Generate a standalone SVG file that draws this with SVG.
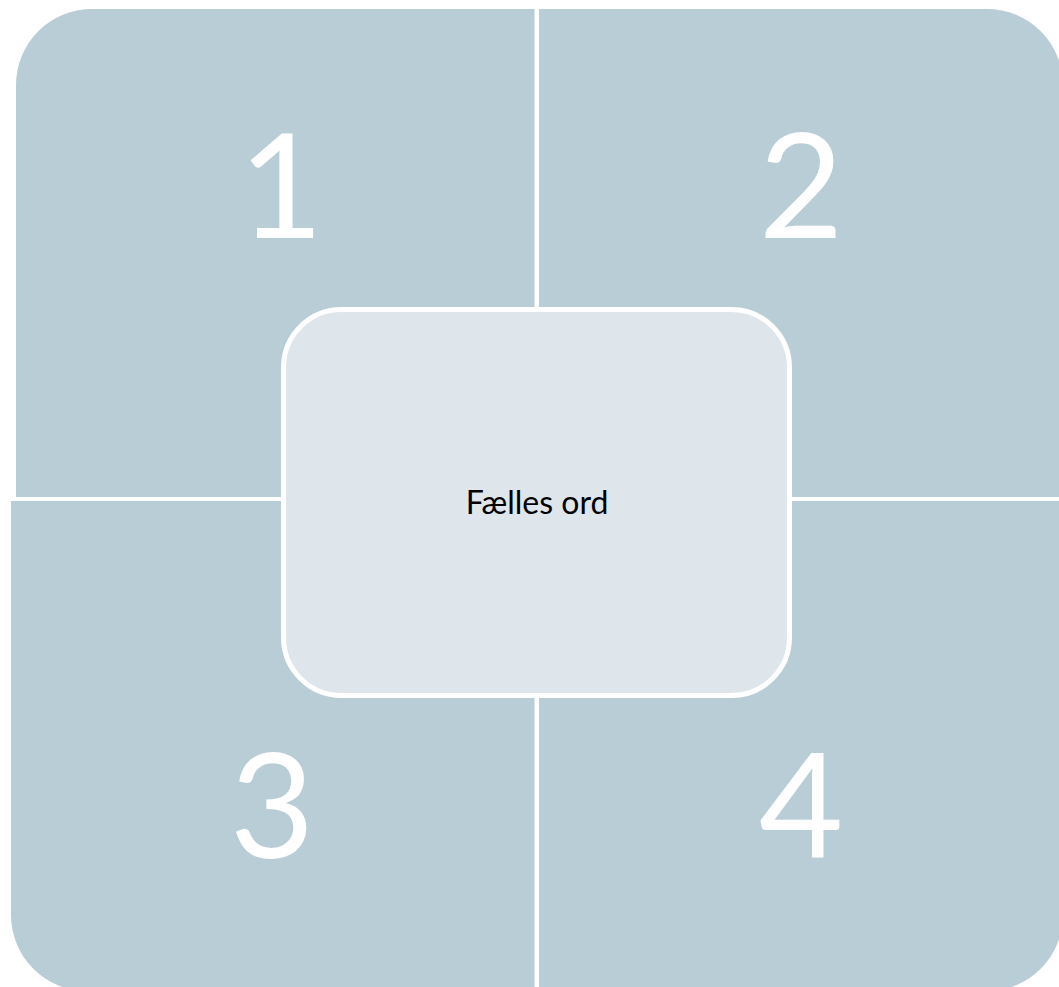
<svg xmlns="http://www.w3.org/2000/svg" width="1059" height="987" viewBox="0 0 1059 987">
<style>
.q{fill:#B9CDD6;}
.num{font-family:Lato,"Open Sans",sans-serif;font-size:146px;fill:#FFFFFF;text-anchor:middle;}
.ctr{fill:#DEE6EB;stroke:#FFFFFF;stroke-width:5;}
.lbl{font-family:Lato,"Open Sans",sans-serif;font-size:32px;fill:#000000;text-anchor:middle;}
</style>
<rect width="1059" height="987" fill="#FFFFFF"/>
<g id="q1">
<path class="q" d="M16,497 L16,85 A76,76 0 0 1 92,9 L534.5,9 L534.5,497 Z"/>
<text class="num" x="281" y="238">1</text>
</g>
<g id="q2">
<path class="q" d="M539,9 L987,9 A76,76 0 0 1 1063,85 L1063,497 L539,497 Z"/>
<text class="num" x="801" y="238">2</text>
</g>
<g id="q3">
<path class="q" d="M11,501 L534.5,501 L534.5,991 L87,991 A76,76 0 0 1 11,915 Z"/>
<text class="num" x="272" y="858">3</text>
</g>
<g id="q4">
<path class="q" d="M539,501 L1063,501 L1063,915 A76,76 0 0 1 987,991 L539,991 Z"/>
<text class="num" x="801" y="857">4</text>
</g>
<g id="connectors"></g>
<g id="center">
<rect class="ctr" x="283.5" y="309.5" width="506" height="386" rx="58" ry="58"/>
<text class="lbl" x="537" y="514">Fælles ord</text>
</g>
</svg>
